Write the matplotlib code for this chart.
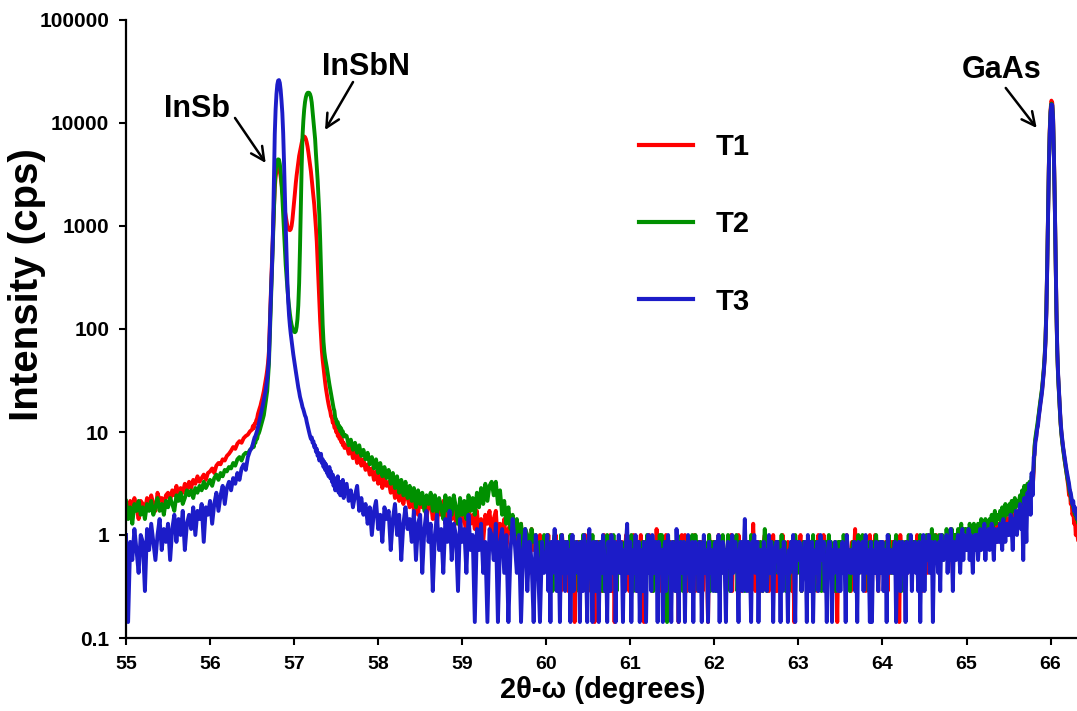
import numpy as np
import matplotlib
matplotlib.use("Agg")
import matplotlib.pyplot as plt
from matplotlib.ticker import NullLocator

plt.rcParams['font.family'] = ['Liberation Sans', 'DejaVu Sans']
plt.rcParams['font.weight'] = 'bold'

# ---------------- data (detector counts per step; cps = counts / counting time) ----------------
COUNT_TIME_S = 7.0
# scan segments: (start 2theta, step)
GRID_A = (55.000, 0.025)    # 55.000 - 56.475
GRID_B = (56.500, 0.010)    # 56.50 - 57.60  (InSb / InSbN peaks)
GRID_C1 = (57.625, 0.025)   # 57.625 - 59.975
GRID_C2 = (60.000, 0.0125)  # 60.000 - 65.800
GRID_D = (65.810, 0.010)    # 65.81 - 66.33  (GaAs peak)

series_labels = ['T1', 'T2', 'T3']
series_colors = ['#ff0000', '#009000', '#1c1cc8']

# ---- T1 ----
t1_a = [14, 11, 15, 12, 16, 13, 10, 15, 14, 12,
        16, 13, 17, 14, 12, 18, 15, 16, 13, 17,
        18, 15, 19, 17, 21, 16, 20, 18, 22, 19,
        23, 20, 24, 22, 26, 23, 25, 27, 24, 28,
        29, 31, 28, 33, 35, 34, 38, 37, 41, 43,
        46, 50, 48, 54, 57, 55, 61, 64, 66, 71]
t1_b = [74, 80, 76, 84, 85, 91, 95, 105, 112, 119,
        126, 137, 147, 161, 175, 196, 217, 245, 280, 329,
        420, 735, 1330, 2240, 3640, 6300, 10500, 16100, 21000, 23800,
        25550, 26250, 25900, 23800, 21000, 18200, 15400, 13300, 11550, 9800,
        8750, 7700, 7000, 6650, 6440, 6370, 6510, 7000, 8050, 9800,
        11900, 14700, 18200, 21700, 25200, 29400, 33600, 37100, 41300, 44800,
        48300, 50400, 51800, 51100, 49000, 45500, 41300, 36400, 31500, 27300,
        23800, 19600, 16100, 13300, 11200, 8750, 6650, 4900, 3150, 1960,
        1260, 840, 595, 434, 350, 294, 245, 210, 182, 161,
        144, 130, 119, 111, 99, 97, 86, 87, 77, 79,
        70, 73, 64, 68, 60, 63, 56, 59, 52, 55, 49]
t1_c1 = [52, 43, 49, 39, 45, 35, 42, 33, 38, 30,
         34, 27, 31, 24, 29, 22, 27, 20, 25, 21,
         23, 18, 22, 16, 20, 15, 19, 14, 18, 16,
         13, 18, 12, 16, 11, 17, 13, 15, 10, 14,
         15, 10, 13, 9, 14, 11, 15, 9, 12, 13,
         10, 14, 9, 12, 8, 13, 10, 7, 12, 9,
         11, 8, 12, 7, 10, 6, 11, 9, 12, 7,
         10, 12, 6, 9, 7, 10, 5, 8, 9, 6,
         8, 5, 7, 9, 4, 7, 6, 3, 8, 5,
         6, 4, 7, 3, 6]
t1_c2 = [6, 4, 7, 3, 5, 2, 6, 4, 5, 7,
         3, 5, 4, 6, 2, 7, 5, 3, 6, 4,
         5, 2, 6, 4, 7, 3, 5, 1, 4, 6,
         4, 6, 3, 5, 2, 6, 4, 7, 3, 5,
         2, 5, 7, 4, 6, 3, 1, 5, 6, 4,
         6, 3, 5, 2, 4, 7, 5, 3, 4, 6,
         4, 7, 2, 5, 6, 1, 4, 6, 3, 5,
         5, 3, 6, 4, 2, 5, 7, 4, 6, 2,
         3, 6, 4, 7, 5, 3, 2, 6, 4, 5,
         7, 4, 5, 1, 6, 4, 5, 3, 7, 4,
         4, 2, 6, 5, 3, 8, 4, 6, 2, 5,
         6, 5, 3, 4, 7, 2, 5, 4, 6, 3,
         2, 6, 5, 3, 4, 6, 1, 5, 4, 7,
         5, 3, 7, 6, 2, 4, 5, 3, 6, 4,
         4, 7, 2, 5, 6, 3, 4, 6, 5, 2,
         6, 4, 5, 3, 1, 7, 5, 4, 3, 6,
         3, 5, 6, 4, 7, 2, 6, 5, 4, 3,
         5, 2, 4, 6, 3, 5, 7, 2, 6, 4,
         4, 6, 3, 7, 5, 4, 2, 6, 3, 5,
         6, 3, 5, 2, 4, 6, 5, 9, 4, 2,
         3, 5, 6, 4, 2, 5, 3, 6, 7, 4,
         5, 4, 2, 6, 5, 3, 7, 4, 2, 6,
         2, 6, 5, 3, 4, 7, 4, 5, 3, 5,
         6, 3, 4, 5, 2, 6, 1, 4, 6, 3,
         4, 5, 7, 2, 6, 4, 5, 3, 5, 6,
         5, 2, 4, 6, 3, 5, 6, 4, 2, 7,
         3, 6, 5, 4, 7, 2, 5, 6, 4, 3,
         6, 4, 3, 5, 2, 6, 4, 1, 5, 6,
         4, 5, 6, 3, 5, 4, 7, 5, 3, 4,
         2, 6, 4, 5, 8, 3, 5, 4, 6, 5,
         5, 3, 6, 4, 2, 5, 6, 3, 7, 4,
         6, 4, 5, 7, 3, 4, 2, 6, 5, 3,
         3, 5, 4, 6, 5, 2, 6, 4, 3, 6,
         5, 6, 3, 4, 6, 5, 1, 7, 4, 5,
         4, 2, 6, 5, 3, 6, 5, 4, 6, 3,
         6, 5, 4, 7, 5, 3, 6, 4, 2, 6,
         5, 4, 6, 3, 7, 5, 4, 6, 5, 4,
         4, 7, 5, 6, 3, 5, 7, 4, 6, 5,
         6, 5, 7, 4, 6, 8, 5, 3, 7, 6,
         5, 7, 6, 4, 8, 5, 6, 7, 5, 6,
         7, 5, 6, 8, 4, 7, 6, 5, 8, 6,
         6, 8, 7, 5, 9, 6, 7, 8, 6, 7,
         8, 6, 7, 9, 7, 8, 10, 7, 8, 6,
         9, 7, 8, 10, 8, 9, 7, 11, 9, 8,
         10, 9, 11, 8, 12, 10, 9, 11, 10, 12,
         12, 11, 14, 12, 13, 15, 12, 16, 14, 17,
         19, 17, 22, 20, 30]
t1_d = [49, 59, 64, 77, 85, 102, 119, 137, 158, 182,
        224, 280, 371, 546, 1050, 2800, 9100, 28000, 59500, 94500,
        115500, 110600, 80500, 35000, 12600, 3500, 1050, 420, 245, 168,
        119, 84, 67, 56, 48, 42, 36, 32, 28, 24,
        21, 17, 19, 14, 15, 11, 12, 9, 10, 7,
        8, 7, 6]

# ---- T2 ----
t2_a = [15, 10, 13, 9, 14, 12, 15, 11, 13, 10,
        14, 12, 15, 11, 13, 16, 12, 14, 11, 15,
        13, 16, 14, 12, 17, 15, 18, 14, 16, 19,
        17, 19, 16, 20, 18, 21, 19, 23, 20, 22,
        24, 21, 25, 27, 24, 28, 26, 30, 29, 32,
        31, 35, 33, 38, 40, 37, 42, 44, 43, 47]
t2_b = [49, 53, 50, 57, 55, 62, 60, 66, 68, 72,
        77, 83, 88, 95, 102, 116, 133, 154, 175, 231,
        315, 560, 980, 1680, 2940, 5600, 10500, 17500, 23800, 28000,
        30450, 31080, 30800, 28000, 23800, 18200, 13300, 9100, 6300, 4200,
        2940, 2240, 1750, 1400, 1155, 980, 854, 770, 714, 679,
        658, 651, 665, 735, 875, 1190, 1960, 4200, 10500, 26600,
        51800, 73500, 94500, 112000, 124600, 133000, 137200, 137900, 137200, 133000,
        124600, 110600, 91000, 73500, 59500, 49000, 35000, 26600, 19600, 13300,
        9100, 5250, 2660, 1400, 770, 525, 420, 364, 329, 294,
        259, 231, 203, 182, 161, 147, 133, 119, 112, 95,
        93, 84, 87, 77, 80, 71, 76, 67, 71, 63, 66]
t2_c1 = [64, 52, 59, 47, 55, 44, 52, 41, 47, 38,
         44, 34, 40, 31, 38, 28, 35, 26, 32, 25,
         30, 22, 28, 20, 26, 18, 24, 17, 23, 16,
         21, 15, 20, 13, 19, 14, 18, 12, 17, 14,
         18, 12, 17, 11, 16, 13, 10, 17, 12, 16,
         11, 17, 13, 9, 16, 11, 15, 10, 17, 12,
         16, 11, 18, 13, 20, 14, 22, 15, 21, 23,
         17, 23, 14, 19, 11, 15, 9, 13, 8, 11,
         7, 10, 6, 9, 5, 8, 7, 4, 8, 6,
         7, 4, 6, 3, 7]
t2_c2 = [5, 7, 3, 6, 4, 5, 2, 6, 7, 4,
         6, 4, 5, 2, 7, 3, 6, 5, 4, 6,
         3, 6, 4, 7, 5, 2, 4, 6, 3, 5,
         5, 2, 6, 4, 3, 7, 5, 4, 6, 2,
         6, 4, 3, 5, 7, 4, 2, 6, 5, 3,
         4, 6, 5, 3, 2, 6, 4, 5, 7, 3,
         2, 5, 6, 4, 7, 3, 5, 2, 4, 6,
         6, 3, 4, 5, 2, 6, 4, 7, 5, 3,
         4, 7, 5, 2, 6, 4, 3, 5, 6, 4,
         5, 3, 6, 4, 5, 2, 7, 4, 3, 6,
         3, 6, 2, 5, 4, 6, 5, 3, 7, 4,
         7, 4, 5, 3, 6, 1, 4, 6, 5, 3,
         4, 5, 6, 2, 5, 7, 3, 4, 6, 5,
         2, 6, 4, 5, 3, 6, 5, 2, 4, 7,
         5, 3, 7, 4, 6, 2, 4, 5, 3, 6,
         4, 6, 3, 5, 4, 7, 2, 6, 5, 4,
         6, 2, 5, 4, 3, 5, 6, 4, 7, 3,
         3, 5, 4, 7, 5, 2, 6, 3, 5, 6,
         5, 7, 2, 4, 6, 5, 3, 6, 4, 2,
         4, 3, 6, 5, 2, 7, 5, 4, 6, 5,
         6, 5, 4, 3, 6, 4, 2, 5, 8, 4,
         2, 4, 6, 5, 3, 6, 5, 4, 3, 6,
         5, 6, 3, 4, 7, 3, 5, 6, 2, 4,
         4, 2, 5, 6, 4, 5, 3, 7, 5, 3,
         6, 5, 4, 2, 5, 6, 4, 3, 6, 5,
         3, 6, 5, 4, 7, 2, 5, 6, 4, 3,
         5, 4, 2, 6, 5, 4, 6, 3, 5, 7,
         4, 6, 5, 3, 4, 6, 2, 5, 6, 4,
         6, 3, 4, 7, 5, 3, 6, 4, 5, 2,
         4, 5, 6, 3, 6, 5, 4, 7, 3, 5,
         5, 7, 3, 5, 4, 6, 5, 2, 6, 4,
         3, 4, 6, 5, 7, 4, 3, 6, 4, 5,
         6, 5, 2, 4, 6, 5, 7, 4, 5, 3,
         4, 6, 5, 7, 3, 4, 6, 5, 2, 6,
         5, 3, 6, 4, 5, 7, 4, 6, 5, 4,
         6, 5, 4, 6, 3, 5, 7, 5, 6, 4,
         4, 6, 7, 5, 6, 4, 5, 8, 5, 6,
         7, 5, 6, 4, 7, 6, 5, 7, 4, 6,
         5, 8, 6, 7, 5, 6, 8, 5, 7, 6,
         7, 6, 8, 5, 7, 9, 6, 7, 8, 6,
         8, 7, 6, 9, 7, 8, 6, 9, 7, 8,
         7, 9, 8, 7, 10, 8, 9, 7, 10, 9,
         9, 8, 10, 9, 11, 8, 10, 12, 9, 10,
         11, 10, 12, 9, 13, 11, 10, 14, 12, 11,
         12, 14, 11, 15, 13, 12, 16, 13, 15, 14,
         15, 17, 14, 19, 16, 21, 18, 16, 22, 19,
         23, 20, 26, 24, 33]
t2_d = [52, 62, 70, 80, 92, 106, 124, 142, 165, 190,
        234, 292, 385, 570, 1100, 2900, 9000, 27000, 56000, 90000,
        108000, 104000, 76000, 33000, 12000, 3400, 1020, 410, 240, 165,
        116, 83, 66, 55, 47, 41, 36, 32, 28, 25,
        23, 20, 18, 17, 15, 14, 13, 12, 11, 11,
        10, 10, 9]

# ---- T3 ----
t3_a = [7, 1, 6, 4, 8, 5, 3, 7, 6, 2,
        8, 5, 9, 6, 4, 7, 10, 5, 8, 6,
        9, 4, 8, 11, 6, 10, 7, 12, 5, 9,
        11, 8, 13, 7, 12, 10, 14, 6, 13, 11,
        15, 9, 14, 18, 12, 17, 21, 14, 20, 23,
        19, 25, 22, 28, 24, 31, 34, 30, 40, 46]
t3_b = [50, 54, 58, 62, 64, 68, 72, 78, 85, 92,
        100, 109, 118, 130, 144, 158, 175, 200, 231, 280,
        364, 665, 1190, 2030, 3360, 7000, 19600, 54600, 94500, 133000,
        164500, 180600, 182700, 171500, 147000, 115500, 87500, 56000, 29400, 14000,
        7000, 3640, 2030, 1295, 945, 756, 630, 539, 462, 399,
        350, 308, 273, 242, 214, 189, 172, 154, 143, 133,
        122, 116, 108, 101, 97, 88, 81, 74, 69, 64,
        60, 62, 55, 57, 50, 52, 45, 48, 41, 44,
        37, 40, 43, 35, 38, 32, 36, 30, 34, 28,
        31, 26, 32, 25, 29, 23, 27, 21, 25, 19,
        24, 20, 26, 18, 22, 17, 23, 19, 24, 16, 21]
t3_c1 = [22, 15, 19, 13, 17, 21, 12, 16, 11, 14,
         9, 13, 7, 12, 15, 8, 11, 6, 13, 10,
         12, 5, 10, 14, 7, 11, 4, 9, 13, 8,
         10, 6, 12, 4, 9, 11, 3, 8, 12, 6,
         9, 2, 7, 11, 5, 8, 3, 10, 6, 12,
         4, 9, 7, 2, 10, 6, 8, 3, 11, 5,
         7, 1, 8, 5, 9, 3, 6, 1, 8, 7,
         4, 9, 1, 6, 8, 3, 7, 1, 5, 10,
         6, 3, 7, 1, 5, 8, 2, 6, 4, 1,
         7, 4, 1, 6, 3]
t3_c2 = [4, 7, 2, 5, 1, 6, 3, 5, 8, 4,
         2, 6, 4, 1, 5, 7, 3, 6, 2, 5,
         6, 3, 5, 1, 4, 7, 2, 5, 4, 6,
         3, 5, 1, 6, 4, 2, 7, 5, 3, 1,
         5, 8, 3, 4, 1, 6, 5, 2, 6, 4,
         1, 4, 6, 3, 7, 5, 2, 4, 1, 6,
         5, 2, 7, 4, 3, 6, 1, 5, 4, 7,
         3, 6, 4, 1, 5, 2, 6, 9, 3, 5,
         6, 1, 4, 5, 3, 7, 2, 4, 6, 1,
         4, 5, 2, 6, 4, 1, 5, 7, 3, 5,
         2, 7, 5, 3, 6, 4, 1, 6, 5, 3,
         5, 1, 4, 6, 2, 5, 7, 3, 4, 1,
         6, 3, 5, 2, 8, 4, 1, 5, 6, 3,
         4, 6, 1, 5, 3, 7, 4, 2, 5, 6,
         1, 5, 6, 3, 4, 2, 6, 5, 1, 4,
         7, 3, 4, 5, 1, 6, 3, 5, 4, 2,
         5, 6, 2, 4, 7, 1, 5, 3, 6, 4,
         3, 1, 5, 6, 4, 5, 2, 7, 3, 5,
         6, 4, 3, 1, 5, 6, 4, 2, 5, 10,
         4, 2, 6, 5, 3, 1, 6, 4, 7, 3,
         5, 6, 1, 4, 5, 3, 2, 6, 4, 5,
         2, 4, 7, 3, 6, 5, 1, 4, 5, 6,
         6, 3, 4, 1, 5, 2, 6, 5, 3, 4,
         1, 5, 3, 6, 4, 7, 3, 1, 6, 5,
         4, 6, 5, 2, 3, 5, 6, 4, 1, 7,
         5, 2, 4, 6, 1, 4, 5, 3, 6, 2,
         3, 7, 5, 4, 6, 2, 4, 1, 5, 6,
         6, 4, 1, 5, 3, 6, 5, 4, 2, 5,
         2, 5, 6, 3, 4, 1, 7, 5, 4, 3,
         5, 3, 4, 6, 2, 5, 1, 6, 3, 5,
         4, 6, 2, 5, 7, 3, 5, 4, 1, 6,
         1, 4, 5, 3, 6, 4, 2, 5, 6, 3,
         6, 2, 4, 5, 1, 7, 4, 3, 5, 4,
         3, 5, 6, 1, 4, 5, 6, 2, 4, 6,
         5, 4, 1, 6, 3, 5, 4, 7, 2, 5,
         4, 6, 3, 5, 2, 6, 1, 5, 4, 7,
         2, 5, 6, 4, 7, 3, 5, 6, 1, 4,
         6, 4, 5, 3, 6, 2, 7, 5, 4, 6,
         5, 7, 3, 6, 4, 8, 5, 2, 6, 5,
         4, 6, 7, 5, 3, 6, 8, 4, 7, 5,
         6, 5, 8, 4, 7, 5, 3, 6, 7, 5,
         7, 4, 6, 8, 5, 7, 6, 9, 4, 7,
         6, 8, 5, 7, 9, 6, 4, 8, 7, 6,
         8, 6, 9, 7, 5, 10, 8, 6, 9, 7,
         9, 7, 11, 8, 5, 10, 9, 12, 7, 10,
         11, 14, 8, 12, 4, 16, 13, 6, 18, 15,
         22, 11, 28, 17, 40]
t3_d = [42, 56, 62, 74, 80, 98, 112, 131, 150, 175,
        215, 270, 355, 530, 1000, 2650, 8600, 26000, 55000, 88000,
        106000, 105000, 77000, 34000, 12400, 3500, 1080, 440, 256, 175,
        124, 88, 70, 59, 50, 44, 39, 34, 30, 27,
        24, 22, 19, 18, 16, 14, 15, 12, 13, 11,
        12, 10, 11]

# annotations: (label, text position, arrow tail, arrow head) in data units
peak_labels = ['InSb', 'InSbN', 'GaAs']
label_pos = [(55.839, 11430), (57.855, 29240), (65.422, 27350)]
arrow_tail = [(56.297, 11190), (57.701, 25000), (65.467, 21880)]
arrow_head = [(56.662, 4090), (57.368, 8550), (65.835, 8940)]


def build(segments):
    xs, ys = [], []
    for (start, step), counts in segments:
        n = len(counts)
        xs.append(start + step * np.arange(n))
        ys.append(np.asarray(counts, dtype=float) / COUNT_TIME_S)
    return np.concatenate(xs), np.concatenate(ys)


all_series = [
    build([(GRID_A, t1_a), (GRID_B, t1_b), (GRID_C1, t1_c1), (GRID_C2, t1_c2), (GRID_D, t1_d)]),
    build([(GRID_A, t2_a), (GRID_B, t2_b), (GRID_C1, t2_c1), (GRID_C2, t2_c2), (GRID_D, t2_d)]),
    build([(GRID_A, t3_a), (GRID_B, t3_b), (GRID_C1, t3_c1), (GRID_C2, t3_c2), (GRID_D, t3_d)]),
]

# ---------------- figure ----------------
W, H = 1077, 711
fig = plt.figure(figsize=(W / 100, H / 100), dpi=100)
ax = fig.add_axes([126 / W, 73 / H, 951 / W, 618 / H])

handles = []
for (x, y), col, lab in zip(all_series, series_colors, series_labels):
    ln, = ax.plot(x, y, color=col, lw=2.8, solid_joinstyle='round', label=lab)
    handles.append(ln)

ax.set_yscale('log')
ax.set_ylim(0.1, 1e5)
ax.set_xlim(55, 55 + 951 / 84.05)

xt = list(range(55, 67))
ax.set_xticks(xt)
ax.set_xticklabels([str(v) for v in xt], fontsize=14, fontweight='bold')
yt = [0.1, 1, 10, 100, 1000, 10000, 100000]
ax.set_yticks(yt)
ax.set_yticklabels(['0.1', '1', '10', '100', '1000', '10000', '100000'],
                   fontsize=15, fontweight='bold')
ax.yaxis.set_minor_locator(NullLocator())
ax.xaxis.set_minor_locator(NullLocator())
ax.tick_params(axis='both', direction='out', length=5, width=1.5)
ax.tick_params(axis='y', pad=7)
ax.tick_params(axis='x', pad=8)

for s in ['top', 'right']:
    ax.spines[s].set_visible(False)
for s in ['left', 'bottom']:
    ax.spines[s].set_linewidth(1.6)

fig.text(603 / W, 1 - 690 / H, '2θ-ω (degrees)', ha='center', va='center',
         fontsize=21, fontweight='bold')
fig.text(27 / W, 1 - 285 / H, 'Intensity (cps)', ha='center', va='center',
         rotation=90, fontsize=29, fontweight='bold')

for lab, pos, tail, head in zip(peak_labels, label_pos, arrow_tail, arrow_head):
    ax.text(pos[0], pos[1], lab, ha='center', va='baseline', fontsize=22,
            fontweight='bold', color='black')
    ax.annotate('', xy=head, xytext=tail,
                arrowprops=dict(arrowstyle='->', lw=1.8, color='black',
                                mutation_scale=24, shrinkA=0, shrinkB=0))

leg = ax.legend(handles=handles, labels=series_labels, loc='upper left',
                bbox_to_anchor=(639 / W, 1 - 133 / H), bbox_transform=fig.transFigure,
                frameon=False, prop={'weight': 'bold', 'size': 21},
                handlelength=1.86, handletextpad=0.76, labelspacing=1.69,
                borderpad=0, borderaxespad=0)
for ln in leg.get_lines():
    ln.set_linewidth(3)

fig.savefig('out.png', dpi=100)
